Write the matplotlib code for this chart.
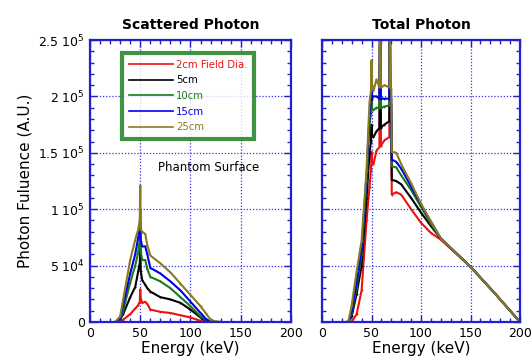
import numpy as np
import matplotlib
matplotlib.use('Agg')
import matplotlib.pyplot as plt
from matplotlib.ticker import MultipleLocator, FixedLocator

plt.rcParams['font.family'] = ['DejaVu Sans']

labels = ['2cm Field Dia.', '5cm', '10cm', '15cm', '25cm']
colors = ['#ee1111', '#000000', '#1a7a1a', '#0000ee', '#8a7a20']

# scattered photon spectra (units of 1e5)
e_sc = [25, 30, 33, 40, 45, 48, 49.5, 50, 50.5, 52, 55, 57, 60, 70, 80, 90,
        100, 110, 115, 120, 125, 130]
sc_2 = [0, 0, 0.02, 0.07, 0.12, 0.15, 0.18, 0.29, 0.2, 0.17, 0.18, 0.16,
        0.11, 0.09, 0.08, 0.06, 0.04, 0.01, 0, 0, 0, 0]
sc_5 = [0, 0.02, 0.07, 0.22, 0.31, 0.45, 0.52, 0.65, 0.45, 0.37, 0.33, 0.3,
        0.27, 0.22, 0.2, 0.17, 0.11, 0.04, 0.01, 0, 0, 0]
sc_10 = [0, 0.02, 0.1, 0.35, 0.5, 0.62, 0.72, 0.88, 0.62, 0.55, 0.55, 0.47,
         0.4, 0.36, 0.3, 0.22, 0.14, 0.05, 0.02, 0, 0, 0]
sc_15 = [0, 0.03, 0.15, 0.43, 0.6, 0.75, 0.85, 1.0, 0.72, 0.67, 0.67, 0.6,
         0.48, 0.43, 0.36, 0.28, 0.18, 0.08, 0.03, 0, 0, 0]
sc_25 = [0, 0.05, 0.2, 0.55, 0.73, 0.82, 0.9, 1.21, 0.82, 0.8, 0.78, 0.68,
         0.59, 0.52, 0.44, 0.34, 0.24, 0.14, 0.08, 0.02, 0.005, 0]

# total photon spectra (units of 1e5)
e_tot = [25, 27, 30, 35, 40, 45, 48, 49.5, 50, 50.5, 52, 55, 58, 59, 59.5, 60,
         63, 68, 68.5, 69, 70, 70.5, 75, 80, 90, 100, 110, 120, 150, 175, 200]
tot_2 = [0, 0, 0, 0.07, 0.28, 0.9, 1.2, 1.35, 1.51, 1.42, 1.4, 1.52, 1.55, 3.2,
         1.56, 1.57, 1.61, 1.64, 3.2, 1.64, 1.64, 1.13, 1.15, 1.13, 1.0, 0.88,
         0.79, 0.73, 0.49, 0.25, 0]
tot_5 = [0, 0, 0.05, 0.25, 0.5, 1.1, 1.5, 1.6, 1.75, 1.65, 1.64, 1.69, 1.72,
         3.2, 1.72, 1.73, 1.75, 1.78, 3.2, 1.78, 1.78, 1.26, 1.25, 1.22, 1.1,
         0.97, 0.85, 0.74, 0.49, 0.25, 0]
tot_10 = [0, 0, 0.08, 0.3, 0.6, 1.25, 1.75, 1.85, 1.97, 1.88, 1.88, 1.9, 1.9,
          3.2, 1.9, 1.9, 1.91, 1.92, 3.2, 1.92, 1.92, 1.38, 1.37, 1.3, 1.17,
          1.02, 0.87, 0.74, 0.49, 0.25, 0]
tot_15 = [0, 0, 0.1, 0.35, 0.65, 1.3, 1.85, 1.95, 2.06, 1.98, 2.0, 2.0, 1.98,
          3.2, 1.98, 1.98, 1.98, 1.98, 3.2, 1.98, 1.98, 1.44, 1.42, 1.36, 1.2,
          1.04, 0.89, 0.74, 0.49, 0.25, 0]
tot_25 = [0, 0.02, 0.15, 0.45, 0.72, 1.35, 1.95, 2.05, 2.32, 2.1, 2.05, 2.15,
          2.08, 3.2, 2.08, 2.08, 2.1, 2.08, 3.2, 2.08, 2.07, 1.51, 1.5, 1.4,
          1.23, 1.05, 0.89, 0.74, 0.49, 0.25, 0]

scattered = [sc_2, sc_5, sc_10, sc_15, sc_25]
total = [tot_2, tot_5, tot_10, tot_15, tot_25]

ytick_vals = [0, 0.5e5, 1e5, 1.5e5, 2e5, 2.5e5]
ytick_labels = ['0', r'5 $10^4$', r'1 $10^5$', r'1.5 $10^5$', r'2 $10^5$',
                r'2.5 $10^5$']

frame = '#2222cc'

fig = plt.figure(figsize=(5.31, 3.62), dpi=100)
ax1 = fig.add_axes([90 / 531, 40 / 362, 201 / 531, 282 / 362])
ax2 = fig.add_axes([322 / 531, 40 / 362, 198 / 531, 282 / 362])

for ax, data, title in [(ax1, scattered, 'Scattered Photon'),
                        (ax2, total, 'Total Photon')]:
    e = e_sc if ax is ax1 else e_tot
    for vals, c, lab in zip(data, colors, labels):
        ax.plot(e, np.array(vals) * 1e5, color=c, lw=1.5, label=lab,
                marker='+', ms=2, mew=0.6)
    ax.set_xlim(0, 200)
    ax.set_ylim(0, 2.5e5)
    ax.xaxis.set_major_locator(MultipleLocator(50))
    ax.xaxis.set_minor_locator(MultipleLocator(10))
    ax.yaxis.set_major_locator(FixedLocator(ytick_vals))
    ax.yaxis.set_minor_locator(MultipleLocator(1e4))
    ax.tick_params(which='both', direction='in', top=True, right=True,
                   color=frame, labelsize=9)
    ax.tick_params(which='major', length=5, width=1)
    ax.tick_params(which='minor', length=3, width=1)
    ax.grid(True, which='major', color='#3333ee', linestyle=(0, (1, 1.5)),
            lw=0.9)
    for s in ax.spines.values():
        s.set_color(frame)
        s.set_linewidth(1.6)
    ax.set_title(title, fontsize=10, fontweight='bold', pad=8)
    ax.set_xlabel('Energy (keV)', fontsize=11, labelpad=1)

ax1.set_yticklabels(ytick_labels)
ax2.set_yticklabels([])
ax1.set_ylabel('Photon Fuluence (A.U.)', fontsize=11)

ax1.text(68, 1.37e5, 'Phantom Surface', fontsize=8.5, va='center')

leg = ax1.legend(loc='upper left', bbox_to_anchor=(0.16, 0.955), fontsize=7.3,
                 handlelength=4.3, handletextpad=0.3, labelspacing=0.55,
                 frameon=True, fancybox=False, borderpad=0.7,
                 borderaxespad=0)
leg.get_frame().set_edgecolor('#117711')
leg.get_frame().set_linewidth(3)
for txt, c in zip(leg.get_texts(), colors):
    txt.set_color(c)
for h in leg.legend_handles:
    h.set_marker('')
    h.set_linewidth(1.2)

fig.savefig('out.png', dpi=100)
